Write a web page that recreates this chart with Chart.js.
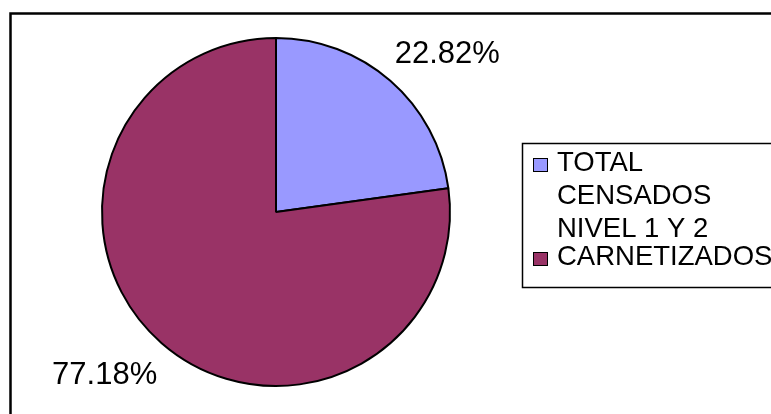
<!DOCTYPE html>
<html>
<head>
<meta charset="utf-8">
<script src="https://cdn.jsdelivr.net/npm/chart.js@4.4.1/dist/chart.umd.min.js"></script>
<style>
  html, body { margin: 0; padding: 0; background: #fff; }
  canvas { display: block; }
</style>
</head>
<body>
<canvas id="pieChart" width="771" height="414"></canvas>
<script>
// chart values
const labels = [["TOTAL", "CENSADOS", "NIVEL 1 Y 2"], ["CARNETIZADOS"]];
const values = [22.82, 77.18];
const colors = ["#9999FF", "#993366"];

// frame, percentage labels and legend box drawn on top
const excelLook = {
    id: "excelLook",
    afterDraw(chart) {
        const ctx = chart.ctx;
        ctx.save();

        // outer frame (runs off right and bottom)
        ctx.strokeStyle = "#000";
        ctx.lineWidth = 2.5;
        ctx.strokeRect(10.5, 13.5, 900, 600);

        // percent labels outside each slice, a little past the mid angle
        const meta = chart.getDatasetMeta(0);
        const total = values.reduce((a, b) => a + b, 0);
        ctx.font = "31px 'Liberation Sans', Arial, sans-serif";
        ctx.fillStyle = "#000";
        ctx.textAlign = "center";
        ctx.textBaseline = "middle";
        meta.data.forEach((arc, i) => {
            const ang = (arc.startAngle + arc.endAngle) / 2 + 0.1;
            const r = arc.outerRadius + 61;
            const x = arc.x + Math.cos(ang) * r;
            const y = arc.y + Math.sin(ang) * r + 3;
            const pct = (values[i] / total * 100).toFixed(2) + "%";
            ctx.fillText(pct, x, y);
        });

        // legend
        ctx.lineWidth = 1.5;
        ctx.strokeRect(522.5, 143.5, 400, 144);
        ctx.font = "27.5px 'Liberation Sans', Arial, sans-serif";
        ctx.textAlign = "left";
        ctx.textBaseline = "alphabetic";
        const firstLine = [171, 265];
        labels.forEach((lines, i) => {
            const base = firstLine[i];
            ctx.fillStyle = colors[i];
            ctx.fillRect(533, base - 13, 15, 14);
            ctx.strokeStyle = "#000";
            ctx.lineWidth = 1;
            ctx.strokeRect(533.5, base - 12.5, 14, 13);
            ctx.fillStyle = "#000";
            lines.forEach((t, j) => {
                ctx.fillText(t, 557, base + j * 33);
            });
        });

        ctx.restore();
    }
};

const ctx = document.getElementById("pieChart").getContext("2d");

new Chart(ctx, {
    type: "pie",
    data: {
        labels: labels,
        datasets: [{
            data: values,
            backgroundColor: colors,
            borderColor: "#000",
            borderWidth: 2
        }]
    },
    options: {
        responsive: false,
        animation: false,
        layout: {
            padding: { left: 100, right: 319, top: 37, bottom: 27 }
        },
        plugins: {
            legend: { display: false },
            tooltip: { enabled: false }
        }
    },
    plugins: [excelLook]
});
</script>
</body>
</html>
